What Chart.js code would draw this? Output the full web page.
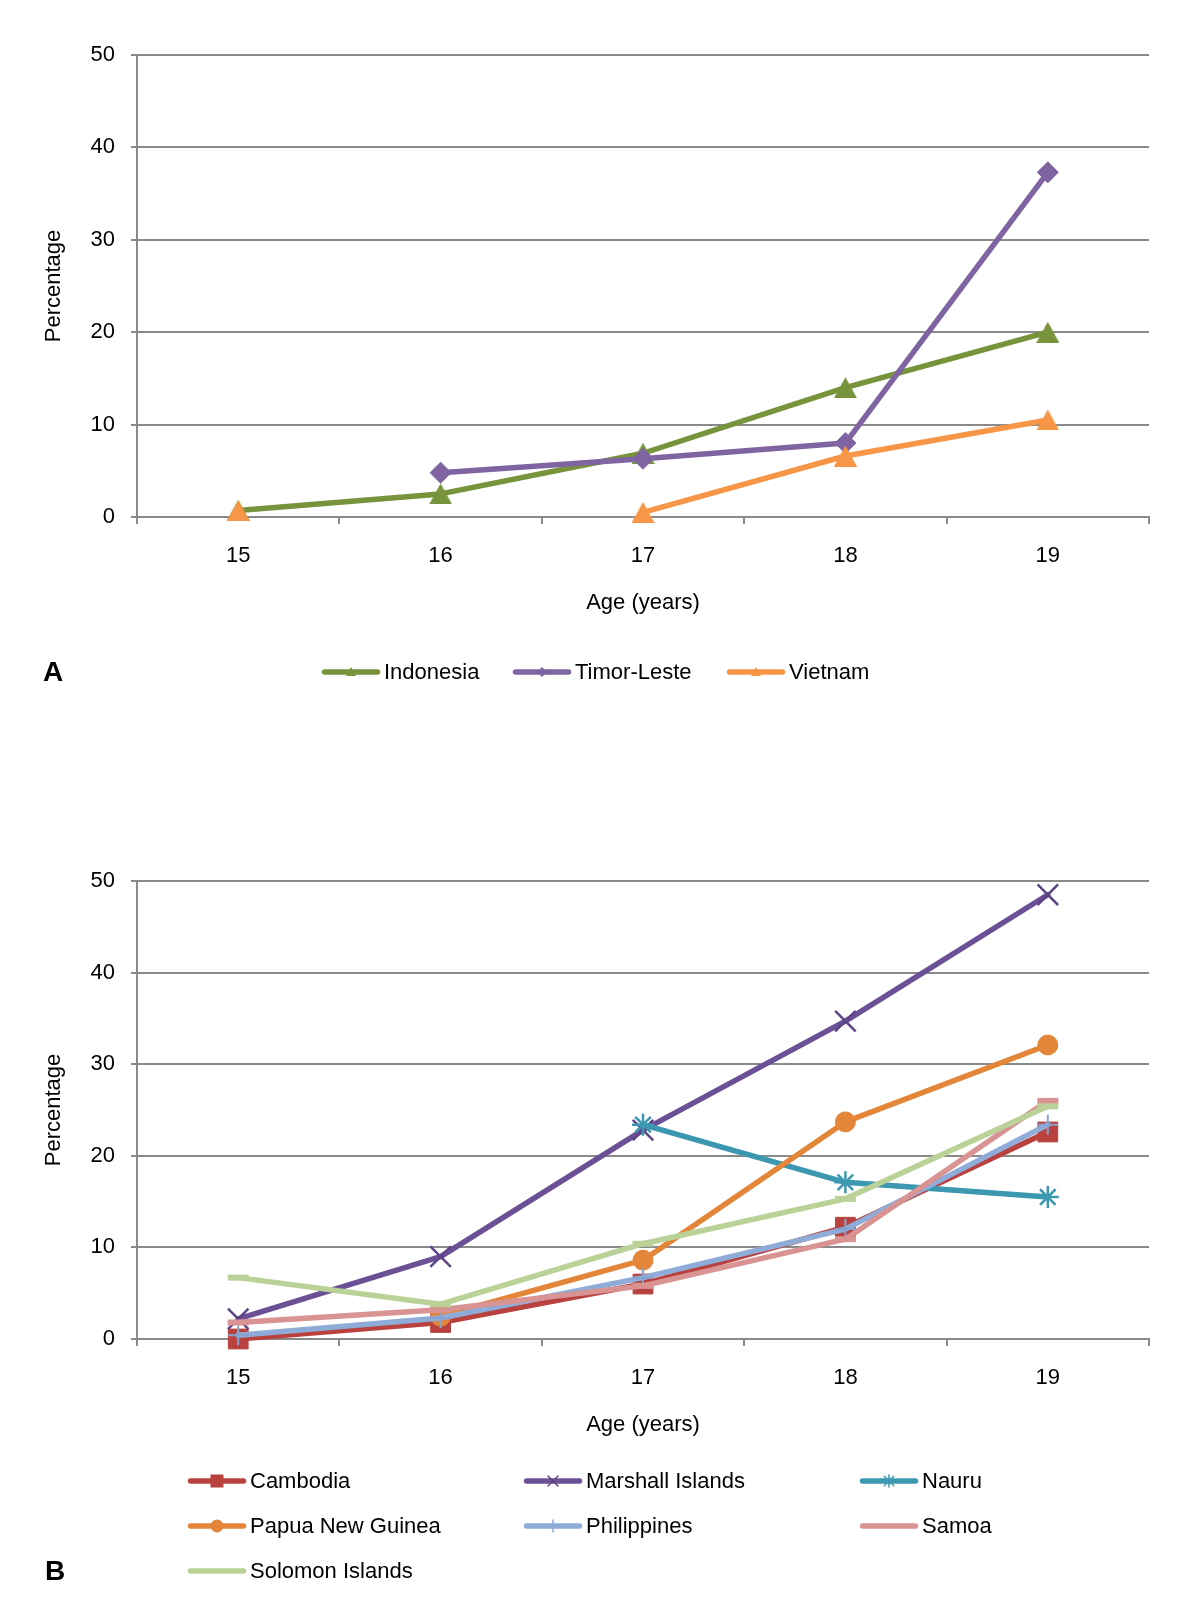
<!DOCTYPE html>
<html><head><meta charset="utf-8">
<script src="https://cdn.jsdelivr.net/npm/chart.js@4.4.0/dist/chart.umd.min.js"></script>
<style>
html,body{margin:0;padding:0;background:#fff;}
#wrapA{position:absolute;left:0;top:0;width:1200px;height:720px;}
#wrapB{position:absolute;left:0;top:720px;width:1200px;height:893px;}
canvas{display:block;}
</style></head><body>
<div id="wrapA"><canvas id="cA" width="1200" height="720"></canvas></div>
<div id="wrapB"><canvas id="cB" width="1200" height="893"></canvas></div>
<script>
// ---------- DATA ----------
const ages = ['15', '16', '17', '18', '19'];
const yTicks = [0, 10, 20, 30, 40, 50];
const xTitle = 'Age (years)';
const yTitle = 'Percentage';

// Panel A
const namesA = ['Indonesia', 'Timor-Leste', 'Vietnam'];
const indonesia = [0.7, 2.5, 6.9, 14.0, 20.0];
const timorLeste = [null, 4.8, 6.3, 8.0, 37.3];
const vietnam = [0.7, null, 0.5, 6.6, 10.5];

// Panel B
const namesB = ['Cambodia', 'Marshall Islands', 'Nauru', 'Papua New Guinea', 'Philippines', 'Samoa', 'Solomon Islands'];
const cambodia = [0.0, 1.8, 6.0, 12.2, 22.6];
const marshallIslands = [2.2, 9.0, 22.8, 34.7, 48.5];
const nauru = [null, null, 23.4, 17.1, 15.5];
const papuaNewGuinea = [null, 2.5, 8.6, 23.7, 32.1];
const philippines = [0.4, 2.3, 6.7, 12.0, 23.4];
const samoa = [1.8, 3.2, 5.8, 10.9, 26.0];
const solomonIslands = [6.7, 3.8, 10.4, 15.3, 25.4];

// ---------- STYLE ----------
const GRID = '#8a8a8a';
const FONT = '"Liberation Sans", Arial, Helvetica, sans-serif';
const LW = 5.5;
Chart.defaults.font.family = FONT;
Chart.defaults.color = '#000';

function triImg(color, w, h) {
  const c = document.createElement('canvas');
  c.width = w; c.height = h;
  const g = c.getContext('2d');
  g.fillStyle = color;
  g.beginPath(); g.moveTo(w / 2, 0); g.lineTo(w, h); g.lineTo(0, h); g.closePath(); g.fill();
  return c;
}

function drawMarker(ctx, style, x, y, r, color, lw) {
  ctx.save();
  ctx.fillStyle = color; ctx.strokeStyle = color; ctx.lineWidth = lw || 1.5;
  ctx.beginPath();
  switch (style) {
    case 'tri':
      ctx.moveTo(x, y - r); ctx.lineTo(x + r, y + r * 0.8); ctx.lineTo(x - r, y + r * 0.8); ctx.closePath(); ctx.fill(); break;
    case 'diamond':
      ctx.moveTo(x, y - r); ctx.lineTo(x + r, y); ctx.lineTo(x, y + r); ctx.lineTo(x - r, y); ctx.closePath(); ctx.fill(); break;
    case 'square':
      ctx.rect(x - r, y - r, 2 * r, 2 * r); ctx.fill(); break;
    case 'circle':
      ctx.arc(x, y, r, 0, Math.PI * 2); ctx.fill(); break;
    case 'x':
      ctx.moveTo(x - r, y - r); ctx.lineTo(x + r, y + r); ctx.moveTo(x + r, y - r); ctx.lineTo(x - r, y + r); ctx.stroke(); break;
    case 'star':
      ctx.moveTo(x, y - r); ctx.lineTo(x, y + r);
      ctx.moveTo(x - r * 0.8, y - r * 0.8); ctx.lineTo(x + r * 0.8, y + r * 0.8);
      ctx.moveTo(x + r * 0.8, y - r * 0.8); ctx.lineTo(x - r * 0.8, y + r * 0.8); ctx.stroke(); break;
    case 'plus':
      ctx.moveTo(x, y - r); ctx.lineTo(x, y + r); ctx.stroke(); break;
  }
  ctx.restore();
}

const legendPlugin = {
  id: 'customLegend',
  afterDraw(chart, args, opts) {
    const ctx = chart.ctx;
    ctx.save();
    opts.items.forEach(it => {
      const ds = chart.data.datasets[it.index];
      ctx.strokeStyle = ds.borderColor;
      ctx.lineWidth = LW; ctx.lineCap = 'round';
      ctx.beginPath(); ctx.moveTo(it.x + 2.5, it.y); ctx.lineTo(it.x + 55.5, it.y); ctx.stroke();
      if (it.marker) drawMarker(ctx, it.marker, it.x + 29, it.y, it.mr, it.mc || ds.borderColor, it.mlw);
      ctx.fillStyle = '#000';
      ctx.font = '22px ' + FONT;
      ctx.textBaseline = 'middle'; ctx.textAlign = 'left';
      ctx.fillText(ds.label, it.x + 62, it.y + 1);
    });
    ctx.font = 'bold 28px ' + FONT;
    ctx.textBaseline = 'middle'; ctx.textAlign = 'left';
    ctx.fillStyle = '#000';
    ctx.fillText(opts.letter, opts.letterX, opts.letterY + 1);
    ctx.restore();
  }
};

function makeOptions(cfg) {
  return {
    responsive: false, animation: false, devicePixelRatio: 1,
    events: [],
    layout: { padding: { left: 30, right: 51, top: cfg.top, bottom: cfg.bottom } },
    plugins: {
      legend: { display: false },
      tooltip: { enabled: false },
      customLegend: cfg.legend
    },
    elements: { line: { tension: 0, borderCapStyle: 'round', borderJoinStyle: 'round' } },
    scales: {
      x: {
        type: 'category', offset: true,
        grid: { offset: true, drawOnChartArea: false, drawTicks: true, tickLength: 7, color: GRID, lineWidth: 2 },
        border: { display: true, color: GRID, width: 2 },
        ticks: { padding: 19, font: { size: 22 }, color: '#000', maxRotation: 0, autoSkip: false },
        title: { display: true, text: xTitle, font: { size: 22 }, color: '#000', padding: { top: 0, bottom: cfg.titlePad } },
        afterFit(s) { s.height = cfg.xH; }
      },
      y: {
        min: 0, max: 50,
        afterBuildTicks(s) { s.ticks = yTicks.map(v => ({ value: v })); },
        ticks: { padding: 16, font: { size: 22 }, color: '#000' },
        grid: { color: GRID, lineWidth: 2, tickLength: 6, drawTicks: true },
        border: { display: true, color: GRID, width: 2 },
        title: { display: true, text: yTitle, font: { size: 22 }, color: '#000', padding: { top: 11, bottom: 0 } },
        afterFit(s) { s.width = 107; }
      }
    }
  };
}

function ds(label, data, color, extra, order) {
  return Object.assign({
    label, data, borderColor: color, backgroundColor: color,
    pointBackgroundColor: color, pointBorderColor: color,
    borderWidth: LW, pointBorderWidth: 1, pointHoverRadius: 0, spanGaps: false, order, clip: false
  }, extra);
}

// ---------- PANEL A ----------
const cInd = '#77933C', cTim = '#8064A2', cVie = '#F79646';
new Chart(document.getElementById('cA'), {
  type: 'line',
  data: {
    labels: ages,
    datasets: [
      ds(namesA[0], indonesia, cInd, { pointStyle: triImg(cInd, 23, 21) }, 3),
      ds(namesA[1], timorLeste, cTim, { pointStyle: 'rectRot', pointRadius: 10.5 }, 2),
      ds(namesA[2], vietnam, cVie, { pointStyle: triImg(cVie, 23, 21) }, 1)
    ]
  },
  options: makeOptions({
    top: 55, bottom: 60, xH: 143, titlePad: 44,
    legend: {
      letter: 'A', letterX: 43, letterY: 672,
      items: [
        { index: 0, x: 322, y: 672, marker: 'tri', mr: 5 },
        { index: 1, x: 513, y: 672, marker: 'diamond', mr: 5 },
        { index: 2, x: 727, y: 672, marker: 'tri', mr: 5 }
      ]
    }
  }),
  plugins: [legendPlugin]
});

// ---------- PANEL B ----------
const cCam = '#B9423F', cMar = '#6B5095', cNau = '#3C97B0', cPng = '#E3863A',
      cPhi = '#8FACD8', cSam = '#D89392', cSol = '#BAD297';
new Chart(document.getElementById('cB'), {
  type: 'line',
  data: {
    labels: ages,
    datasets: [
      ds(namesB[0], cambodia, cCam, { pointStyle: 'rect', pointRadius: 14 }, 7),
      ds(namesB[1], marshallIslands, cMar, { pointStyle: 'crossRot', pointRadius: 14.5, pointBorderWidth: 2.5, pointBorderColor: '#5E4487' }, 6),
      ds(namesB[2], nauru, cNau, { pointStyle: 'star', pointRadius: 11, pointBorderWidth: 2.5 }, 5),
      ds(namesB[3], papuaNewGuinea, cPng, { pointStyle: 'circle', pointRadius: 10 }, 4),
      ds(namesB[4], philippines, cPhi, { pointStyle: 'cross', pointRadius: 10, pointBorderWidth: 2, pointBorderColor: '#86A3D0' }, 3),
      ds(namesB[5], samoa, cSam, { pointStyle: 'line', pointRadius: 10.5, pointBorderWidth: 6 }, 2),
      ds(namesB[6], solomonIslands, cSol, { pointStyle: 'line', pointRadius: 10.5, pointBorderWidth: 6 }, 1)
    ]
  },
  options: makeOptions({
    top: 161, bottom: 150, xH: 124, titlePad: 25,
    legend: {
      letter: 'B', letterX: 45, letterY: 851,
      items: [
        { index: 0, x: 188, y: 761, marker: 'square', mr: 6.5 },
        { index: 1, x: 524, y: 761, marker: 'x', mr: 5, mlw: 1.5, mc: '#5E4487' },
        { index: 2, x: 860, y: 761, marker: 'star', mr: 6, mlw: 1.5 },
        { index: 3, x: 188, y: 806, marker: 'circle', mr: 6.5 },
        { index: 4, x: 524, y: 806, marker: 'plus', mr: 6, mlw: 1.5 },
        { index: 5, x: 860, y: 806 },
        { index: 6, x: 188, y: 851 }
      ]
    }
  }),
  plugins: [legendPlugin]
});
</script>
</body></html>
